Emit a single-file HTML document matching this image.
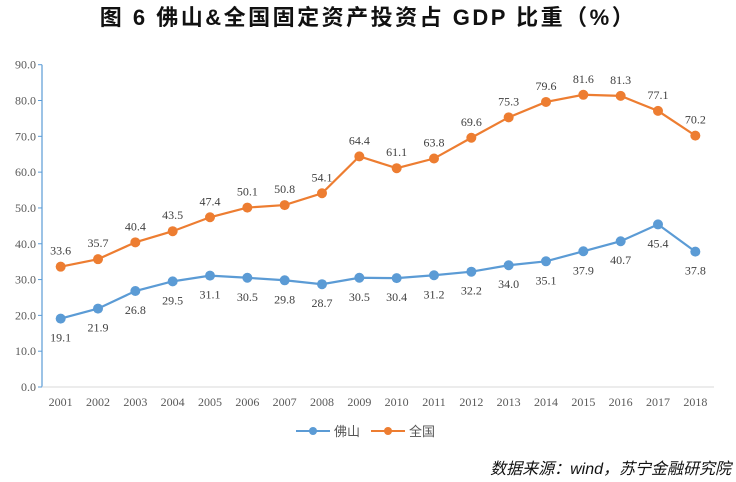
<!DOCTYPE html>
<html><head><meta charset="utf-8"><style>
body{margin:0;background:#fff;width:736px;height:482px;overflow:hidden;font-family:"Liberation Serif","Noto Serif CJK SC",serif}
svg{display:block}
</style></head><body>
<svg width="736" height="482">
<text x="368" y="25" text-anchor="middle" font-size="22" font-weight="bold" letter-spacing="2.5" fill="#111" font-family="'Liberation Sans','Noto Sans CJK SC',sans-serif">图 6  佛山&amp;全国固定资产投资占 GDP 比重（%）</text>
<g id="axes"></g><g id="marks"></g>
<g font-family="'Liberation Sans','Noto Sans CJK SC',sans-serif" font-size="13" fill="#555">
<g><line x1="296" y1="431" x2="330" y2="431" stroke="#5b9bd5" stroke-width="2"/><circle cx="313" cy="431" r="4" fill="#5b9bd5"/><text x="334" y="436">佛山</text></g>
<g><line x1="371" y1="431" x2="405" y2="431" stroke="#ed7d31" stroke-width="2"/><circle cx="388" cy="431" r="4" fill="#ed7d31"/><text x="409" y="436">全国</text></g>
</g>
<text x="731" y="474" text-anchor="end" font-size="16" font-style="italic" fill="#111" font-family="'Liberation Sans','Noto Sans CJK SC',sans-serif">数据来源：wind，苏宁金融研究院</text>
</svg>
<script>
const years=["2001","2002","2003","2004","2005","2006","2007","2008","2009","2010","2011","2012","2013","2014","2015","2016","2017","2018"];
const foshan=[19.1,21.9,26.8,29.5,31.1,30.5,29.8,28.7,30.5,30.4,31.2,32.2,34.0,35.1,37.9,40.7,45.4,37.8];
const national=[33.6,35.7,40.4,43.5,47.4,50.1,50.8,54.1,64.4,61.1,63.8,69.6,75.3,79.6,81.6,81.3,77.1,70.2];
const yTicks=["0.0","10.0","20.0","30.0","40.0","50.0","60.0","70.0","80.0","90.0"];
const NS="http://www.w3.org/2000/svg";
const X0=42,X1=714,Y0=387,Y1=64.7,YMAX=90;
const band=(X1-X0)/years.length;
const xs=i=>X0+band*(i+0.5);
const ys=v=>Y0-(v/YMAX)*(Y0-Y1);
function mk(p,tag,a){const e=document.createElementNS(NS,tag);for(const k in a)e.setAttribute(k,a[k]);p.appendChild(e);return e;}
const ax=document.getElementById('axes'),mg=document.getElementById('marks');
const ya=mk(ax,'line',{x1:X0,y1:Y1,x2:X0,y2:Y0,stroke:'#5b9bd5','stroke-width':1.2});


const xa=mk(ax,'line',{x1:X0,y1:Y0,x2:X1,y2:Y0,stroke:'#d9d9d9','stroke-width':1});


yTicks.forEach(t=>{const y=ys(parseFloat(t));
 mk(ax,'line',{x1:X0-4,y1:y,x2:X0,y2:y,stroke:'#5b9bd5'});
 const tx=mk(ax,'text',{x:X0-6,y:y+4,'text-anchor':'end','font-size':12,fill:'#595959'});tx.textContent=t;
 
 
});
years.forEach((t,i)=>{const tx=mk(ax,'text',{x:xs(i),y:Y0+19,'text-anchor':'middle','font-size':12,fill:'#595959'});tx.textContent=t;
 
 
});
function series(vals,color,name,above){
 const pl=mk(mg,'polyline',{points:vals.map((v,i)=>xs(i)+','+ys(v)).join(' '),fill:'none',stroke:color,'stroke-width':2.2});
 
 
 vals.forEach((v,i)=>{
  const c=mk(mg,'circle',{cx:xs(i),cy:ys(v),r:5,fill:color});
  
  
  const t=mk(mg,'text',{x:xs(i),y:above?ys(v)-12:ys(v)+23,'text-anchor':'middle','font-size':12,fill:'#404040'});
  t.textContent=v.toFixed(1);
  
  
 });
}
series(foshan,'#5b9bd5','foshan',false);
series(national,'#ed7d31','national',true);
</script>
</body></html>
